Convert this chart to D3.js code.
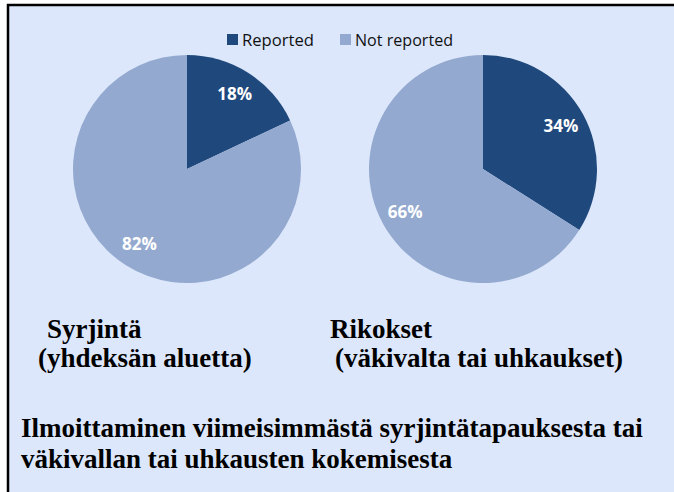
<!DOCTYPE html>
<html><head><meta charset="utf-8">
<script src="https://cdn.jsdelivr.net/npm/d3@7"></script>
<style>body{margin:0;background:#fff}svg{display:block}</style>
</head><body>
<svg id="c" width="674" height="492"></svg>
<script>
const categories = ["Reported", "Not reported"];
const pieNames = ["Syrjintä", "Rikokset"];
const syrjintaValues = [18, 82];
const rikoksetValues = [34, 66];
const subtitles = ["(yhdeksän aluetta)", "(väkivalta tai uhkaukset)"];
const titleLines = ["Ilmoittaminen viimeisimmästä syrjintätapauksesta tai", "väkivallan tai uhkausten kokemisesta"];

const colors = d3.scaleOrdinal().domain(categories).range(["#1F497D", "#94A9CF"]);
const svg = d3.select("#c");
svg.append("rect").attr("x",0).attr("y",0).attr("width",674).attr("height",492).attr("fill","#fff");
svg.append("rect").attr("x",8).attr("y",5).attr("width",700).attr("height",520)
  .attr("fill","#DCE7FB").attr("stroke","#000").attr("stroke-width",2.5);

const pie = d3.pie().sort(null).value(d => d.v);
const r = 114;
const arc = d3.arc().innerRadius(0).outerRadius(r);
const labelArc = d3.arc().innerRadius(r*0.78).outerRadius(r*0.78);
const pies = [
  {name: pieNames[0], values: syrjintaValues, cx: 187, cy: 169},
  {name: pieNames[1], values: rikoksetValues, cx: 483, cy: 169}
];
pies.forEach(p => {
  const g = svg.append("g").attr("transform", `translate(${p.cx},${p.cy})`);
  const data = pie(categories.map((c,i) => ({c, v: p.values[i]})));
  g.selectAll("path").data(data).join("path").attr("d", arc).attr("fill", d => colors(d.data.c));
  g.selectAll("text").data(data).join("text")
    .attr("transform", d => `translate(${labelArc.centroid(d)})`)
    .attr("text-anchor","middle").attr("dy","0.36em")
    .attr("fill","#fff").attr("font-family","'Open Sans', sans-serif").attr("font-weight","bold").attr("font-size",17)
    .text(d => d.data.v + "%");
});

// legend
const leg = svg.append("g").attr("font-family","'Open Sans', sans-serif").attr("font-size",16.5);
const legX = [227, 340];
const legW = [72, 98];
categories.forEach((c,i) => {
  leg.append("rect").attr("x",legX[i]).attr("y",34).attr("width",11).attr("height",11).attr("fill",colors(c));
  leg.append("text").attr("x",legX[i]+15).attr("y",45.5).attr("fill","#111")
    .attr("textLength",legW[i]).attr("lengthAdjust","spacingAndGlyphs").text(c);
});

const serif = "'Liberation Serif','Times New Roman',serif";
const tg = svg.append("g").attr("font-family",serif).attr("font-weight","bold").attr("font-size",27).attr("fill","#000");
tg.append("text").attr("x",47).attr("y",338).text(pieNames[0]);
tg.append("text").attr("x",38).attr("y",367).text(subtitles[0]);
tg.append("text").attr("x",330).attr("y",338).text(pieNames[1]);
tg.append("text").attr("x",335).attr("y",367).text(subtitles[1]);
titleLines.forEach((t,i) => tg.append("text").attr("x",21).attr("y",437 + i*31).text(t));
</script>
</body></html>
